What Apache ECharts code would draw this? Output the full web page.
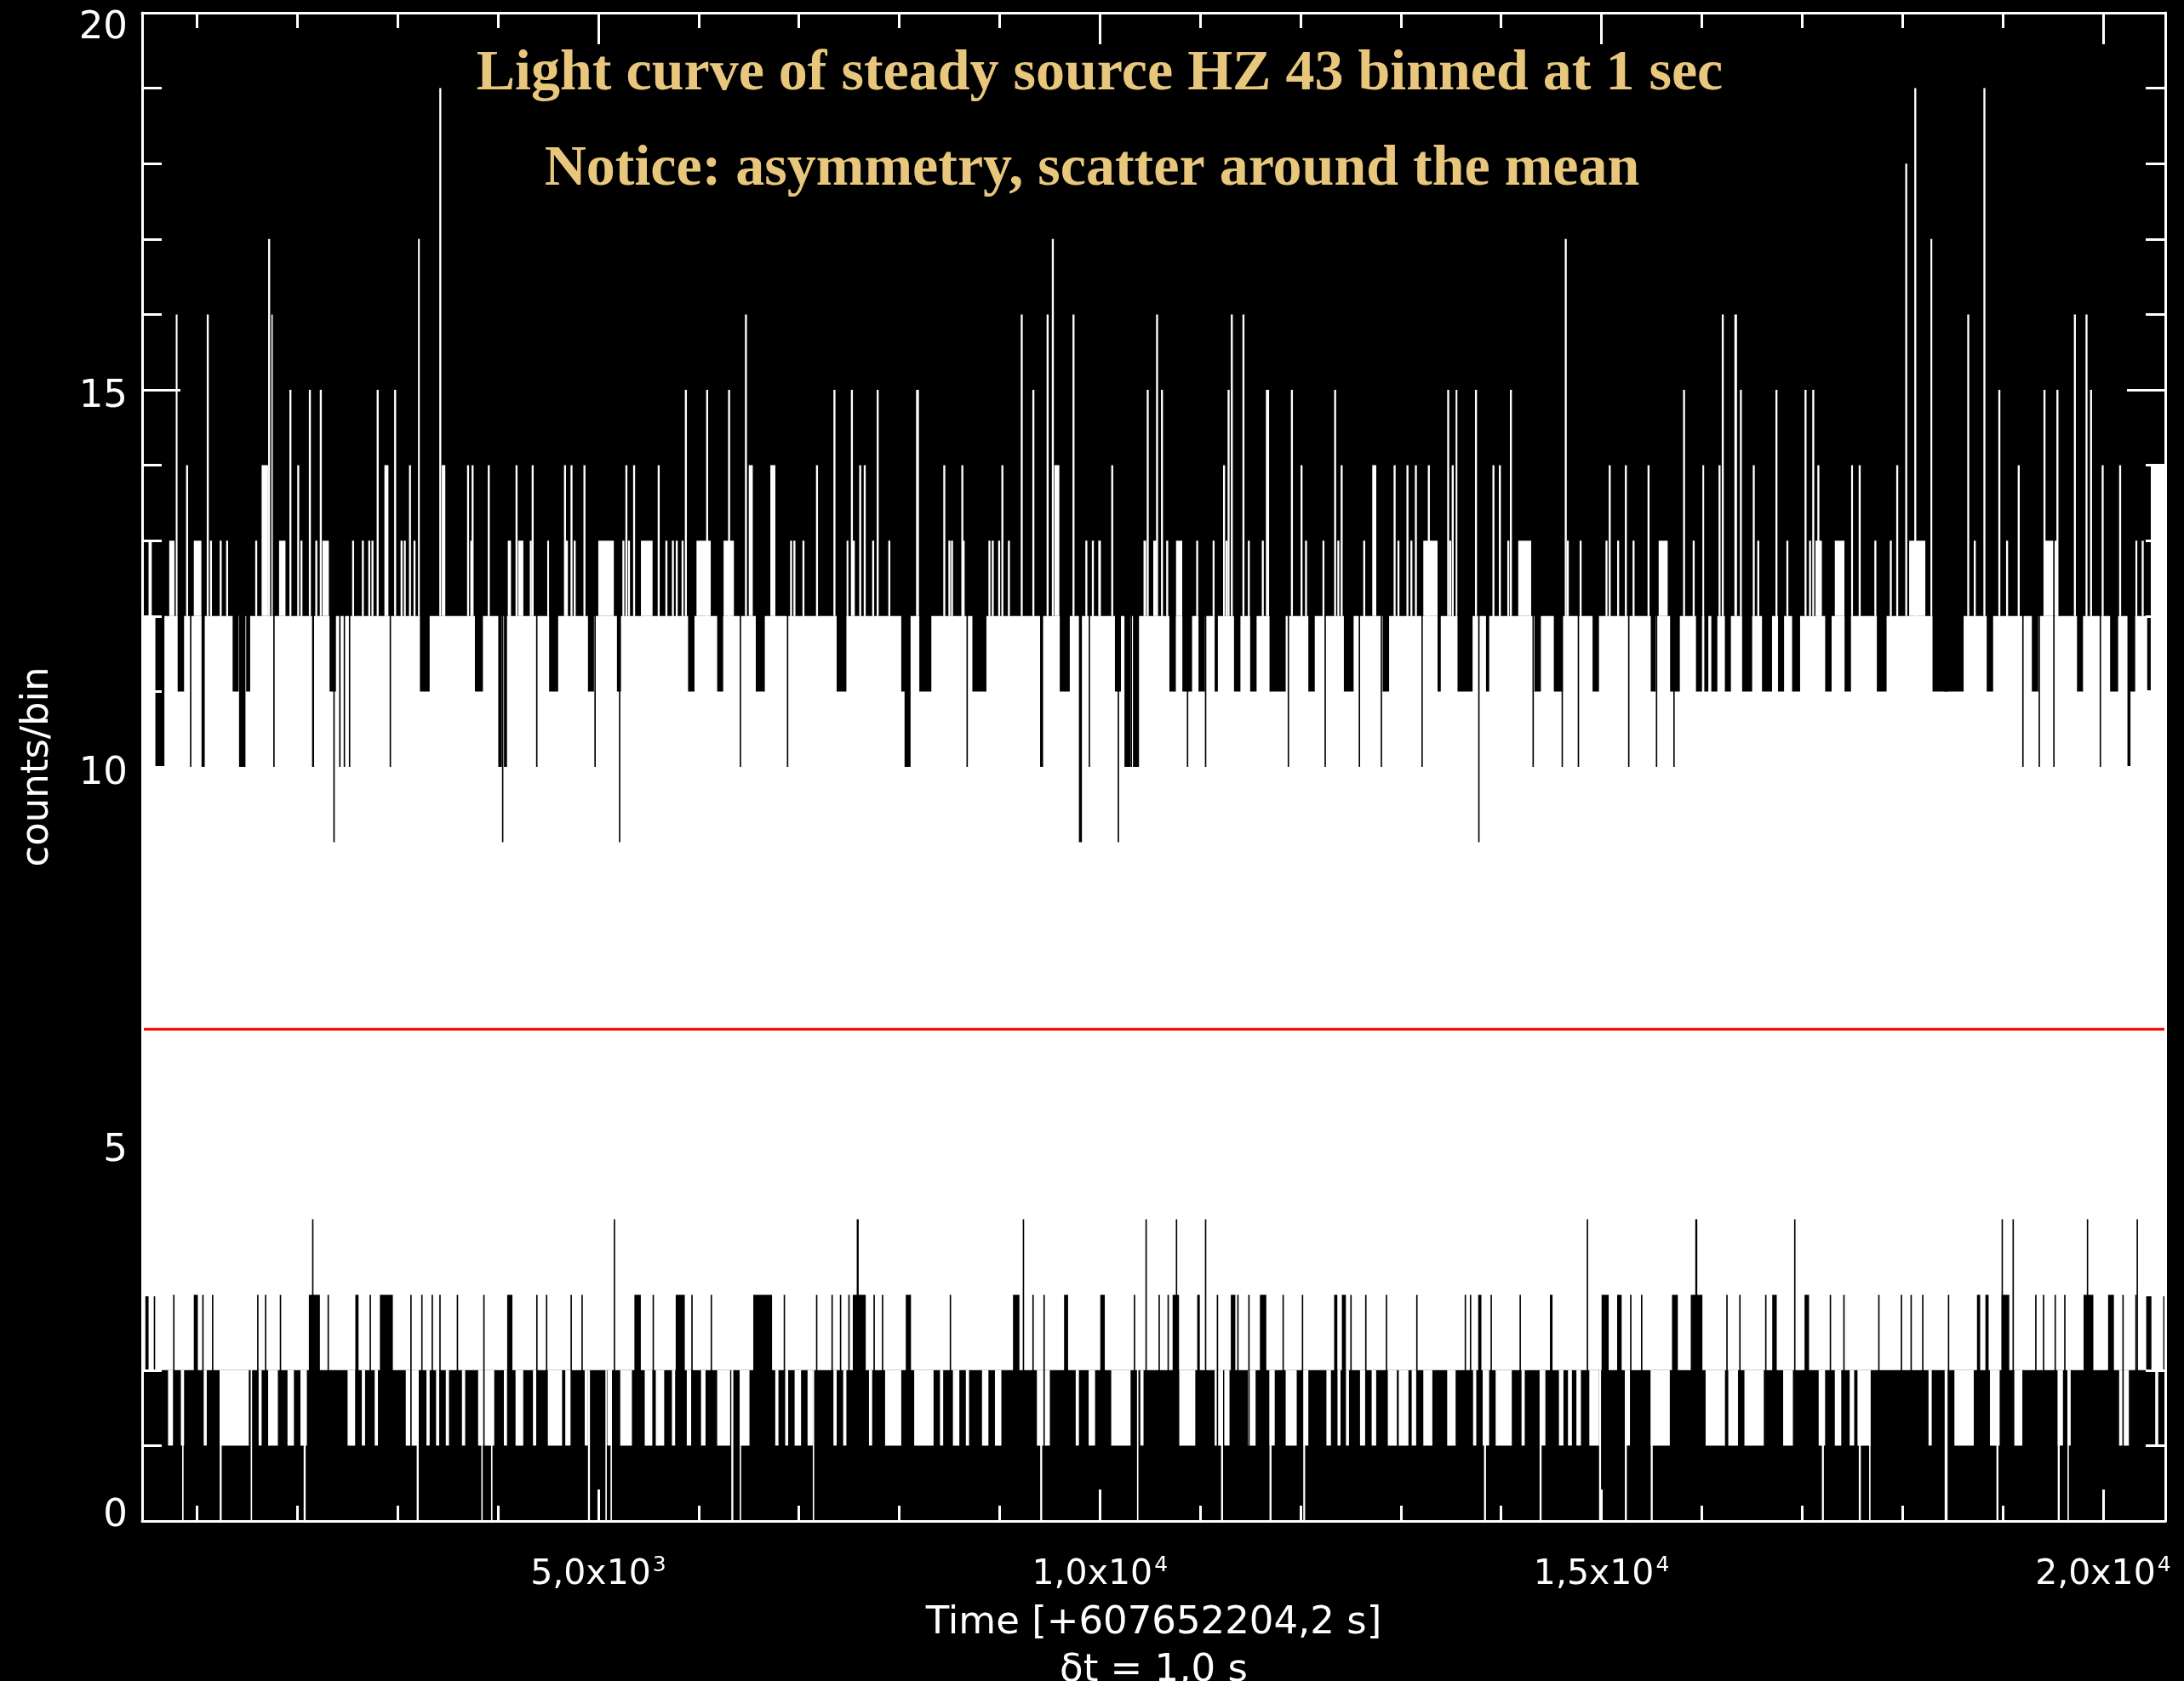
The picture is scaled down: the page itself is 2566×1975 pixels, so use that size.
<!DOCTYPE html>
<html><head><meta charset="utf-8">
<script src="https://cdn.jsdelivr.net/npm/echarts@6/dist/echarts.min.js"></script>
<style>html,body{margin:0;padding:0;background:#000;overflow:hidden}#c{width:2566px;height:1975px}</style>
</head><body><div id="c"></div>
<script>
// ---- axis ranges / labels ----
const timeStart = 453, timeEnd = 20620;
const countMin = 0, countMax = 20;
const upperBase = 12;   // typical maximum count per pixel column
const lowerBase = 2;    // typical minimum count per pixel column
const meanCounts = 6.52;
const xTickValues = [5000, 10000, 15000, 20000];
const xTickMantissa = ['5,0', '1,0', '1,5', '2,0'];
const xTickExponent = ['3', '4', '4', '4'];

// ---- upper envelope: columns reaching above 12 [time, count, width(s)] ----
const upperPeaks = [[788,16,20],[891,14,20],[1097,16,20],[1644,14,64],[1709,17,20],[1741,16,14],[1921,15,20],[1999,14,20],[2115,15,20],[2224,15,20],[2791,15,20],[2868,14,40],[2965,15,20],[3113,14,20],[3203,17,20],[3415,19,20],[3440,14,35],[3692,14,20],[3737,14,20],[3898,14,20],[4175,14,20],[4336,14,20],[4658,14,20],[4723,14,20],[4852,14,20],[5270,14,20],[5347,14,20],[5592,14,20],[5863,15,20],[6075,15,20],[6294,15,20],[6462,16,20],[6500,14,40],[6715,14,50],[7170,14,20],[7344,15,20],[7518,15,20],[7601,14,20],[7646,14,20],[7775,15,20],[8168,15,28],[8439,14,20],[8619,14,20],[9018,14,20],[9211,16,20],[9327,15,20],[9469,16,20],[9521,17,20],[9546,14,50],[9727,16,20],[10113,14,20],[10467,15,20],[10560,16,20],[10609,15,20],[11228,14,20],[11273,15,20],[11305,16,20],[11421,16,20],[11655,15,32],[11904,15,20],[12000,14,20],[12335,15,20],[12400,14,20],[12715,14,40],[12928,14,20],[13056,14,20],[13140,14,20],[13269,14,20],[13462,15,20],[13507,14,20],[13546,15,20],[13739,15,20],[13913,14,20],[13977,14,20],[14087,15,20],[14634,17,20],[15072,14,20],[15233,14,20],[15459,14,20],[15813,15,20],[16006,14,20],[16167,14,20],[16199,16,20],[16325,16,26],[16380,15,20],[16508,14,20],[16734,15,20],[17024,15,20],[17101,15,20],[17152,14,20],[17487,14,20],[17564,14,20],[17938,14,20],[18028,18,20],[18118,19,20],[18279,17,20],[18646,16,20],[18807,19,20],[18956,15,20],[19149,14,20],[19406,15,20],[19535,15,20],[19709,16,20],[19825,16,20],[19870,15,20],[19986,14,20],[20160,14,20],[20475,14,150]];
const upperComb = [[517,13,32],[723,13,52],[968,13,77],[1129,13,20],[1226,13,20],[1290,13,20],[1580,13,20],[1818,13,64],[2031,13,20],[2179,13,20],[2250,13,64],[2546,13,20],[2643,13,20],[2707,13,20],[2739,13,20],[3029,13,20],[3061,13,20],[3158,13,20],[3724,13,20],[4098,13,32],[4201,13,52],[4317,13,20],[4491,13,20],[4671,13,26],[4755,13,20],[5000,13,155],[5240,13,20],[5296,13,20],[5425,13,116],[5669,13,20],[5734,13,20],[5772,13,20],[5830,13,20],[5979,13,142],[6249,13,103],[6912,13,20],[6945,13,20],[7035,13,20],[7473,13,20],[7537,13,20],[7730,13,20],[7891,13,20],[8490,13,20],[8516,13,20],[8632,13,20],[8889,13,20],[8922,13,20],[8986,13,20],[9083,13,20],[9855,13,20],[9920,13,20],[9984,13,26],[10435,13,26],[10532,13,32],[10661,13,20],[10757,13,64],[10960,13,20],[11124,13,20],[11253,13,20],[11475,13,20],[11614,13,20],[12045,13,20],[12219,13,20],[12367,13,20],[12625,13,20],[12966,13,20],[13095,13,20],[13224,13,142],[13482,13,20],[14061,13,20],[14170,13,129],[14654,13,20],[14782,13,20],[15040,13,20],[15156,13,20],[15310,13,20],[15570,13,90],[15909,13,20],[16553,13,20],[16843,13,20],[17069,13,20],[17133,13,64],[17326,13,97],[17720,13,20],[17874,13,20],[18067,13,161],[18711,13,20],[19033,13,20],[19420,13,129],[20321,13,20],[20385,13,20]];
// ---- upper envelope: columns whose maximum stays below 12 [time, count, width] ----
const upperGaps = [[585,10,90],[807,11,64],[930,10,14],[1045,10,32],[1355,11,60],[1419,10,64],[1490,11,40],[1760,10,14],[2147,10,20],[2321,11,64],[2359,9,14],[2417,10,14],[2462,10,14],[2514,10,14],[2920,10,14],[3222,11,97],[3770,11,80],[4003,10,36],[4040,9,14],[4060,10,30],[4380,10,14],[4510,11,90],[4897,11,60],[4961,10,14],[5186,11,40],[5206,9,14],[5895,11,64],[6185,11,60],[6410,10,14],[6570,11,90],[6880,10,14],[7376,11,97],[8020,11,40],[8053,10,60],[8200,11,120],[8670,10,14],[8729,11,140],[9404,10,30],[9600,11,100],[9791,9,30],[9888,10,14],[10150,11,60],[10177,9,14],[10245,10,60],[10306,10,14],[10330,10,60],[10693,11,64],[10822,11,97],[10867,10,14],[10983,11,64],[11047,10,14],[11144,11,32],[11337,11,64],[11498,11,64],[11691,11,161],[11872,10,14],[12078,11,64],[12239,10,14],[12432,11,97],[12580,10,14],[12799,10,14],[12819,11,64],[13205,10,14],[13366,11,32],[13565,11,150],[13771,9,14],[13849,11,32],[14312,10,14],[14332,11,64],[14525,11,90],[14602,10,14],[14763,10,14],[14911,11,64],[15265,10,14],[15491,11,50],[15542,10,14],[15684,11,97],[15716,10,14],[15942,11,60],[16025,11,40],[16095,11,60],[16230,11,60],[16402,11,100],[16600,11,100],[16760,11,60],[16900,11,80],[17230,11,64],[17423,11,64],[17745,11,97],[18300,11,150],[18420,11,190],[18840,11,64],[19194,10,14],[19290,11,64],[19357,10,14],[19503,10,14],[19740,11,60],[19966,10,14],[20070,11,80],[20243,10,30],[20260,11,60],[20440,11,35]];
// ---- lower envelope: columns dipping below 2 [time, count, width] ----
const lowerDips = [[711,1,52],[839,1,32],[1065,1,32],[1226,1,290],[1612,1,32],[1709,1,97],[1902,1,64],[2031,1,64],[2501,1,77],[2643,1,32],[2771,1,32],[3081,1,129],[3287,1,32],[3383,1,32],[3480,1,32],[3641,1,32],[3802,1,161],[4059,1,32],[4175,1,77],[4349,1,32],[4497,1,142],[4671,1,64],[4865,1,32],[5090,1,45],[5219,1,116],[5463,1,77],[5573,1,84],[5734,1,32],[5882,1,45],[6024,1,45],[6185,1,129],[6410,1,97],[6764,1,32],[6861,1,32],[6957,1,64],[7086,1,52],[7344,1,32],[7441,1,32],[7698,1,32],[7859,1,161],[8149,1,193],[8406,1,32],[8535,1,64],[8664,1,32],[8825,1,64],[8954,1,64],[9372,1,129],[9759,1,32],[9888,1,64],[10113,1,193],[10403,1,32],[10790,1,161],[11144,1,84],[11240,1,52],[11475,1,77],[11691,1,52],[11852,1,110],[12026,1,52],[12258,1,45],[12367,1,32],[12451,1,32],[12593,1,52],[12709,1,45],[12870,1,90],[12979,1,97],[13108,1,52],[13224,1,90],[13462,1,84],[13720,1,32],[13816,1,64],[13945,1,161],[14203,1,32],[14396,1,45],[14576,1,45],[14666,1,39],[14750,1,45],[14879,1,97],[15233,1,52],[15491,1,190],[16038,1,193],[16264,1,97],[16425,1,193],[16811,1,97],[17165,1,64],[17326,1,64],[17474,1,45],[17552,1,129],[18260,1,32],[18518,1,193],[18872,1,97],[19115,1,80],[19548,1,52],[19645,1,32],[20160,1,97],[20520,1,30],
  [852,0,14],[1226,0,20],[1535,0,14],[2063,0,20],[3190,0,20],[3834,0,14],[3931,0,14],[4897,0,20],[5071,0,14],[5122,0,14],[6326,0,20],[6410,0,14],[7138,0,14],[9405,0,20],[10370,0,14],[11208,0,20],[11691,0,20],[12026,0,20],[13829,0,20],[14383,0,20],[14976,0,20],[15233,0,20],[15491,0,20],[17197,0,20],[17565,0,20],[17668,0,14],[18421,0,30],[18937,0,20],[19548,0,20],[19645,0,14],[20450,0,20]];
// ---- lower envelope: columns whose minimum stays above 2 [time, count, width] ----
const lowerBlocks = [[485,3,32],[569,3,14],[762,3,14],[968,3,40],[1052,3,14],[1149,3,14],[1599,3,14],[1677,3,14],[1825,3,14],[2115,3,110],[2301,3,14],[2578,3,32],[2720,3,14],[2823,3,129],[3126,3,14],[3235,3,14],[3338,3,14],[3415,3,14],[3589,3,14],[3853,3,14],[4092,3,52],[4381,3,14],[4478,3,14],[4723,3,14],[4832,3,14],[5360,3,64],[5541,3,14],[5772,3,90],[5927,3,14],[6120,3,14],[6545,3,187],[6848,3,14],[7170,3,14],[7324,3,14],[7408,3,14],[7492,3,14],[7537,3,129],[7743,3,14],[7827,3,14],[8065,3,52],[8503,3,14],[9134,3,64],[9327,3,14],[9437,3,14],[9643,3,40],[10004,3,45],[10338,3,14],[10584,3,14],[10674,3,14],[10725,3,64],[10970,3,26],[11165,3,14],[11305,3,45],[11369,3,14],[11479,3,14],[11595,3,64],[11820,3,14],[12013,3,14],[12335,3,32],[12412,3,40],[12496,3,14],[12644,3,14],[12850,3,14],[13153,3,14],[13636,3,14],[13688,3,14],[13771,3,32],[13894,3,14],[14183,3,14],[14486,3,26],[15001,3,71],[15156,3,45],[15285,3,14],[15394,3,14],[15703,3,58],[15890,3,116],[16244,3,14],[16373,3,14],[16631,3,14],[16702,3,45],[17024,3,45],[17275,3,14],[17410,3,14],[17758,3,14],[17983,3,14],[18080,3,14],[18196,3,14],[18453,3,14],[18743,3,32],[18827,3,32],[18988,3,77],[19323,3,14],[19400,3,14],[19516,3,14],[19612,3,14],[19806,3,97],[20050,3,58],[20192,3,14],[20321,3,14],[20430,3,52],[20600,3,20],
  [2147,4,14],[5154,4,14],[7576,4,20],[9231,4,14],[10454,4,14],[10757,4,14],[11047,4,14],[14853,4,14],[15935,4,20],[16920,4,14],[18988,4,14],[19097,4,14],[19838,4,14],[20334,4,14]];

// ---- build rectangles [t0, t1, c0, c1, white?] ----
const rects = [[timeStart, timeEnd, lowerBase, upperBase, 1]];
upperPeaks.concat(upperComb).forEach(d => rects.push([d[0], d[0] + d[2], upperBase, d[1], 1]));
lowerDips.forEach(d => rects.push([d[0], d[0] + d[2], d[1], lowerBase, 1]));
upperGaps.forEach(d => rects.push([d[0], d[0] + d[2], d[1], countMax, 0]));
lowerBlocks.forEach(d => rects.push([d[0], d[0] + d[2], countMin, d[1], 0]));

const FONT = 'DejaVu Sans';
const WHITE = '#ffffff';
const chart = echarts.init(document.getElementById('c'), null, {renderer: 'canvas', width: 2566, height: 1975});

function xAxisCfg(pos, labels) {
  return {
    type: 'value', position: pos, min: timeStart, max: timeEnd, z: 5,
    axisLine: {show: true, onZero: false, lineStyle: {color: WHITE, width: 3}},
    axisTick: {show: true, inside: true, length: 37, lineStyle: {color: WHITE, width: 3}},
    minorTick: {show: true, splitNumber: 5, length: 18, lineStyle: {color: WHITE, width: 3}},
    splitLine: {show: false}, minorSplitLine: {show: false},
    axisLabel: labels ? {
      show: true, margin: 40, color: WHITE, fontFamily: FONT, fontSize: 41,
      formatter: v => { const i = xTickValues.indexOf(v); return i < 0 ? '' : '{m|' + xTickMantissa[i] + 'x10}{e|' + xTickExponent[i] + '}'; },
      rich: {m: {fontSize: 41, fontFamily: FONT, color: WHITE}, e: {fontSize: 25, fontFamily: FONT, color: WHITE, padding: [0, 0, 22, 2]}}
    } : {show: false},
    name: labels ? 'Time [+607652204,2 s]\nδt = 1,0 s' : '',
    nameLocation: 'middle', nameGap: 92,
    nameTextStyle: {color: WHITE, fontFamily: FONT, fontSize: 45, lineHeight: 56}
  };
}
function yAxisCfg(pos, labels) {
  return {
    type: 'value', position: pos, min: countMin, max: countMax, interval: 5, z: 5,
    axisLine: {show: true, onZero: false, lineStyle: {color: WHITE, width: 3}},
    axisTick: {show: true, inside: true, length: 45, lineStyle: {color: WHITE, width: 3}},
    minorTick: {show: true, splitNumber: 5, length: 23, lineStyle: {color: WHITE, width: 3}},
    splitLine: {show: false}, minorSplitLine: {show: false},
    axisLabel: labels ? {
      show: true, margin: 17, color: WHITE, fontFamily: FONT, fontSize: 45,
      formatter: v => v === countMax ? '{hi|' + v + '}' : (v === countMin ? '{lo|' + v + '}' : '{n|' + v + '}'),
      rich: {
        n: {fontSize: 45, fontFamily: FONT, color: WHITE, padding: [16, 0, 0, 0]},
        hi: {fontSize: 45, fontFamily: FONT, color: WHITE, padding: [36, 0, 0, 0]},
        lo: {fontSize: 45, fontFamily: FONT, color: WHITE, padding: [0, 0, 12, 0]}
      }
    } : {show: false},
    name: labels ? 'counts/bin' : '', nameLocation: 'middle', nameGap: 100,
    nameTextStyle: {color: WHITE, fontFamily: FONT, fontSize: 45}
  };
}

chart.setOption({
  backgroundColor: '#000000',
  animation: false,
  grid: {left: 167, right: 22, top: 15, bottom: 188, containLabel: false, outerBoundsMode: 'none'},
  xAxis: [xAxisCfg('bottom', true), xAxisCfg('top', false)],
  yAxis: [yAxisCfg('left', true), yAxisCfg('right', false)],
  series: [
    {
      type: 'custom', name: 'light curve', clip: true, z: 1, progressive: 0,
      dimensions: ['t0', 't1', 'c0', 'c1', 'white'],
      encode: {x: [0, 1], y: [2, 3]},
      data: rects,
      renderItem: function (params, api) {
        const a = api.coord([api.value(0), api.value(3)]);
        const b = api.coord([api.value(1), api.value(2)]);
        return {type: 'rect', shape: {x: a[0], y: a[1], width: Math.max(b[0] - a[0], 1.6), height: b[1] - a[1]},
          style: {fill: api.value(4) ? WHITE : '#000000'}};
      }
    },
    {
      type: 'line', name: 'mean', z: 3, symbol: 'none', silent: true,
      data: [[timeStart, meanCounts], [timeEnd, meanCounts]],
      lineStyle: {color: '#ff0000', width: 3}
    }
  ],
  graphic: [
    {type: 'text', x: 1292, y: 87, z: 10, style: {text: 'Light curve of steady source HZ 43 binned at 1 sec', fill: '#e8c77d', font: 'bold 68px "Liberation Serif"', align: 'center', verticalAlign: 'middle'}},
    {type: 'text', x: 1283, y: 199, z: 10, style: {text: 'Notice: asymmetry, scatter around the mean', fill: '#e8c77d', font: 'bold 68px "Liberation Serif"', align: 'center', verticalAlign: 'middle'}}
  ]
});
</script></body></html>
